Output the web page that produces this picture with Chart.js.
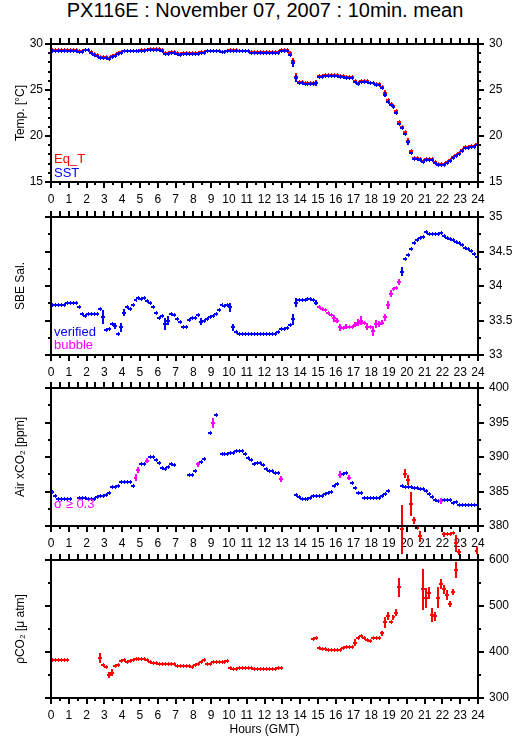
<!DOCTYPE html>
<html>
<head>
<meta charset="utf-8">
<script src="https://cdn.jsdelivr.net/npm/chart.js@4/dist/chart.umd.min.js"></script>
<style>
  body { margin:0; background:#fff; width:515px; height:739px; position:relative; overflow:hidden;
         font-family:"Liberation Sans", Arial, sans-serif; }
  #titulo { position:absolute; left:0; top:-2px; width:530px; text-align:center;
            font-size:20px; line-height:24px; color:#000; }
  canvas { position:absolute; left:0; }
</style>
</head>
<body>
<div id="titulo">PX116E : November 07, 2007 : 10min. mean</div>
<canvas id="cTemp" width="515" height="192" style="top:24px"></canvas>
<canvas id="cSal"  width="515" height="192" style="top:197px"></canvas>
<canvas id="cAr"   width="515" height="192" style="top:368px"></canvas>
<canvas id="cPco2" width="515" height="199" style="top:540px"></canvas>
<script>
// ─── Dados: médias de 10 min, 144 por dia (uma linha = 1 hora) ───
const _ = null;

// Temperatura [°C]
const sst = [
  29.25,29.25,29.25,29.25,29.25,29.25,  29.25,29.25,29.25,29.15,29.15,29.3,
  29.3,29.0,28.8,28.75,28.5,28.5,       28.5,28.4,28.6,28.75,28.9,29.05,
  29.2,29.2,29.2,29.2,29.2,29.2,        29.25,29.25,29.3,29.35,29.35,29.35,
  29.35,29.25,28.95,28.95,29.05,29.05,  28.9,28.85,28.95,28.95,28.95,28.95,
  28.95,28.95,29.05,29.05,29.2,29.2,    29.2,29.2,29.2,29.1,29.1,29.2,
  29.25,29.25,29.25,29.2,29.2,29.2,     29.2,29.05,29.05,29.05,29.05,29.05,
  29.05,29.05,29.05,29.05,29.05,29.28,  29.28,29.28,28.8,27.9,26.27,25.76,
  25.76,25.65,25.65,25.65,25.65,25.72,  26.38,26.38,26.52,26.52,26.52,26.52,
  26.52,26.38,26.38,26.27,26.27,26.27,  25.87,25.7,25.87,25.87,25.87,25.72,
  25.72,25.54,25.54,25.2,24.5,23.75,    23.35,23.1,22.5,21.3,20.85,20.25,
  19.3,18.2,17.5,17.5,17.36,17.17,      17.4,17.4,17.4,17.1,16.85,16.85,
  16.85,17.1,17.28,17.57,17.86,18.08,   18.4,18.66,18.66,18.8,18.8,19.02,
];
const eqT = [
  29.33,29.33,29.33,29.33,29.33,29.33,  29.33,29.33,29.33,29.23,29.23,29.38,
  29.38,29.08,28.88,28.83,28.58,28.58,  28.58,28.48,28.68,28.83,28.98,29.13,
  29.28,29.28,29.28,29.28,29.28,29.28,  29.33,29.33,29.38,29.43,29.43,29.43,
  29.43,29.33,29.03,29.03,29.13,29.13,  28.98,28.93,29.03,29.03,29.03,29.03,
  29.03,29.03,29.13,29.13,29.28,29.28,  29.28,29.28,29.28,29.18,29.18,29.28,
  29.33,29.33,29.33,29.28,29.28,29.28,  29.28,29.13,29.13,29.13,29.13,29.13,
  29.13,29.13,29.13,29.13,29.13,29.36,  29.36,29.36,29.0,28.1,26.45,25.85,
  25.85,25.75,25.75,25.75,25.75,25.8,   26.47,26.47,26.6,26.6,26.6,26.6,
  26.6,26.47,26.47,26.36,26.36,26.36,   25.96,25.8,25.96,25.96,25.96,25.8,
  25.8,25.63,25.63,25.35,24.7,23.9,     23.5,23.25,22.7,21.5,21.0,20.45,
  19.5,18.4,17.62,17.6,17.45,17.25,     17.5,17.5,17.5,17.2,16.95,16.95,
  16.95,17.2,17.38,17.67,17.96,18.18,   18.5,18.76,18.76,18.9,18.9,19.1,
];
const tempSd = [
  0,0,0,0,0,0,  0,0,0,0,0,0,  0,0,0,0,0,0,  0,0,0,0,0,0,
  0,0,0,0,0,0,  0,0,0,0,0,0,  0,0,0,0,0,0,  0,0,0,0,0,0,
  0,0,0,0,0,0,  0,0,0,0,0,0,  0,0,0,0,0,0,  0,0,0,0,0,0,
  0,0,0,0,0,0,  0,0,.25,.35,.35,0,  0,0,0,0,0,.25,  0,0,0,0,0,0,
  0,0,0,0,0,0,  0,0,0,0,0,0,  0,0,0,.15,.3,.2,  .1,0,.15,.25,.1,0,
  .3,.2,0,0,0,0,  0,0,0,0,0,.2,  0,0,0,0,0,0,  0,0,0,0,0,0,
];

// Salinidade SBE
const sal = [
  33.72,33.72,33.72,33.73,33.73,33.75,  33.75,33.75,33.75,33.69,33.59,33.56,
  33.6,33.6,33.59,33.59,33.67,33.55,    33.36,33.38,33.45,33.42,33.31,33.4,
  33.61,33.7,33.67,33.73,33.79,33.82,   33.81,33.83,33.78,33.75,33.69,33.61,
  33.53,33.56,33.45,33.5,33.59,33.58,   33.52,33.48,33.4,33.4,33.51,33.54,
  33.53,33.58,33.48,33.49,33.52,33.55,  33.57,33.6,33.65,33.72,33.71,33.72,
  33.69,33.4,33.33,33.3,33.3,33.3,      33.3,33.3,33.3,33.3,33.3,33.3,
  33.3,33.31,33.31,33.3,33.33,33.37,    33.37,33.39,33.44,33.52,33.76,33.8,
  33.8,33.8,33.81,33.81,33.8,33.76,     33.69,33.67,33.65,33.61,33.58,33.53,
  33.5,33.4,33.39,33.41,33.4,33.41,     33.44,33.47,33.5,33.47,33.41,33.4,
  33.35,33.45,33.45,33.47,33.55,33.72,  33.89,33.95,33.97,34.06,34.21,34.39,
  34.45,34.54,34.62,34.66,34.7,34.71,   34.78,34.76,34.76,34.76,34.76,34.77,
  34.72,34.7,34.68,34.67,34.64,34.62,   34.59,34.55,34.53,34.51,34.47,34.42,
];
const salSd = [
  .01,.01,.01,.01,.01,.01,  .01,.01,.01,.02,.01,.01,  .01,.01,.01,.01,.02,.1,   .02,.01,.01,.04,.02,.07,
  .05,.01,.01,.01,.01,.01,  .01,.01,.01,.01,.01,.01,  .01,.01,.09,.06,.01,.01,  .01,.01,.02,.02,.01,.01,
  .01,.01,.05,.02,.01,.01,  .01,.01,.01,.01,.01,.01,  .07,.05,.01,.01,.01,.01,  .01,.01,.01,.01,.01,.01,
  .01,.01,.01,.01,.01,.01,  .01,.01,.02,.08,.06,.01,  .01,.01,.01,.01,.01,.04,  .01,.01,.02,.02,.03,.05,
  .04,.05,.03,.04,.03,.03,  .04,.05,.06,.03,.05,.03,  .07,.06,.04,.04,.05,.06,  .05,.02,.02,.04,.06,.03,
  .03,.02,.02,.02,.01,.01,  .01,.01,.01,.01,.01,.01,  .01,.01,.01,.01,.01,.01,  .01,.01,.01,.01,.01,.01,
];
// intervalo com bolhas (horas)
const bolhaInicio = 15.0;
const bolhaFim    = 19.67;

// xCO2 do ar [ppm]
const arCo2 = [
  384.9,384.35,383.96,383.96,383.96,383.9,  383.9,_,_,384.0,384.0,384.0,
  383.95,383.9,383.9,384.2,384.3,384.4,     384.5,384.83,385.6,385.6,385.8,386.42,
  386.42,386.35,386.35,385.8,387.0,388.1,   389.0,389.0,389.47,390.05,390.0,389.6,
  389.1,388.36,388.3,388.6,389.0,388.8,     _,_,_,_,387.44,387.44,
  387.97,388.94,389.3,389.66,_,393.53,      394.97,396.09,_,390.43,390.43,390.45,
  390.6,390.6,390.87,390.87,390.87,390.43,  389.81,389.5,389.0,389.2,389.2,388.84,
  388.3,388.0,388.0,387.7,387.7,386.8,      _,_,_,_,384.5,384.2,
  383.9,383.9,383.9,384.05,384.3,384.3,     384.3,384.4,384.64,384.8,385.0,385.8,
  386.1,387.4,387.6,387.7,387.0,386.2,      385.46,384.83,384.83,384.1,384.1,384.1,
  384.1,384.1,384.1,384.4,384.6,385.07,     _,_,_,_,385.8,385.6,
  385.6,385.6,385.5,385.5,385.3,385.3,      385.1,384.6,384.2,383.77,383.6,383.6,
  383.8,383.8,383.8,383.4,383.5,383.04,     383.04,383.04,383.04,383.04,383.1,383.1,
];
const arCo2Sd = [
  .1,.1,.1,.1,.1,.1,  .1,.1,.1,.1,.1,.1,  .1,.1,.1,.1,.1,.1,  .1,.1,.1,.1,.1,.1,
  .1,.1,.1,.1,.5,.4,  .1,.1,.4,.1,.1,.1,  .1,.1,.1,.1,.1,.1,  .1,.1,.1,.1,.1,.1,
  .1,.4,.1,.1,.1,.1,  .7,.1,.1,.1,.1,.1,  .1,.1,.1,.1,.1,.1,  .1,.1,.1,.1,.1,.1,
  .1,.1,.1,.1,.1,.4,  .1,.1,.1,.1,.1,.1,  .1,.1,.1,.1,.1,.1,  .1,.1,.1,.1,.1,.1,
  .1,.5,.1,.1,.4,.1,  .1,.1,.1,.1,.1,.1,  .1,.1,.1,.1,.1,.1,  .1,.1,.1,.1,.1,.1,
  .1,.1,.1,.1,.1,.1,  .1,.1,.1,.1,.1,.45, .1,.1,.1,.1,.1,.1,  .1,.1,.1,.1,.1,.1,
];
// leituras rejeitadas (vermelho), 19:40 em diante
const arCo2Ruim   = [379.5,387.6,386.7,383.2,380.8,379.75,378.5, _,_,_,_,_,_,_, 378.8,378.85,378.9,378.95,377.5];
const arCo2RuimSd = [3.5,.7,.7,1.7,.5,.3,.8,                      0,0,0,0,0,0,0, .4,.1,.1,.1,1.2];
const arCo2RuimIni = 118; // índice do primeiro valor

// pCO2 [μatm]
const pco2 = [
  383.3,383.3,383.3,383.3,383.3,383.3,  _,_,_,_,_,_,
  _,_,_,_,386.2,372,                    367,350,355,370,372,380.4,
  382,379,380,383.5,385.5,385.5,        385.5,385,382,379,375.4,375.4,
  373.2,373.2,373.2,373.2,373.2,373.2,  369.6,369.6,369.6,369.6,369.6,368,
  372,375,379,382,375,374,              379,379,379,379,379,381,
  364.5,362.3,362.3,364.5,364.5,364.5,  364.5,364.5,363.5,363.5,363.5,363.5,
  363.5,363.5,363.5,363.5,364.5,364.5,  _,_,_,_,_,_,
  _,_,_,_,427.5,430,                    409.4,407,407,404.3,404.3,404.3,
  404.3,404.3,408,410,411,411,          420.3,431.2,434.8,430,425.5,424,
  431.2,430,431.2,440.6,464.5,479,      464.5,475.5,485.5,540.6,_,_,
  _,_,_,_,_,536,                        518,529,480.4,478,518,548,
  536,524,504,531,578.3,618,            _,_,_,_,_,620,
];
const pco2Sd = [
  1,1,1,1,1,1,  1,1,1,1,1,1,  1,1,1,1,11,1,  1,7,8,1,1,1,
  1,1,1,1,1,1,  1,1,1,1,1,1,  1,1,1,1,1,1,  1,1,1,1,1,1,
  1,1,1,1,1,1,  1,1,1,1,1,1,  1,1,1,1,1,1,  1,1,1,1,1,1,
  1,1,1,1,1,1,  1,1,1,1,1,1,  1,1,1,1,1,1,  1,1,1,1,1,1,
  1,1,1,1,1,1,  7,1,5,1,1,1,  1,1,1,5,12,9,  1,5,7,21,1,1,
  1,1,1,1,1,44, 22,13,15,10,23,10,  10,10,7,7,18,7,  1,1,1,1,1,8,
];

// ─── Cores ──────────────────────────────────────────
const COR = { azul:'#0000ff', vermelho:'#ff0000', magenta:'#ff00ff', preto:'#000' };

Chart.defaults.font.family = '"Liberation Sans", Arial, sans-serif';
Chart.defaults.font.size = 12;
Chart.defaults.color = '#000';

// índice -> centro do intervalo de 10 min (horas)
function pontos(vals, sds, inicio = 0, corDe = null) {
  const out = [];
  vals.forEach((v, i) => {
    if (v === null) return;
    const h = (inicio + i) / 6 + 1 / 12;
    const p = { x: h, y: v, sd: sds[i] };
    if (corDe) p.cor = corDe(p);
    out.push(p);
  });
  return out;
}

// rótulo sem zeros à direita (33, 33.5, 34 ...)
const fmtNum = v => String(+Number(v).toFixed(2));

// ─── Plugin: cruzes (barra de 10 min + desvio padrão) ───
const cruzes = {
  id: 'cruzes',
  afterDatasetsDraw(chart) {
    const { ctx } = chart;
    const xs = chart.scales.x, ys = chart.scales.y;
    ctx.save();
    ctx.lineCap = 'butt';
    chart.data.datasets.forEach(ds => {
      ds.data.forEach(p => {
        const x0 = Math.floor(xs.getPixelForValue(p.x - 1 / 12));
        const x1 = Math.ceil(xs.getPixelForValue(p.x + 1 / 12));
        const xc = Math.round(xs.getPixelForValue(p.x));
        const yc = Math.round(ys.getPixelForValue(p.y));
        const yt = Math.min(Math.round(ys.getPixelForValue(p.y + p.sd)), yc - 2);
        const yb = Math.max(Math.round(ys.getPixelForValue(p.y - p.sd)), yc + 2);
        ctx.strokeStyle = p.cor || ds.borderColor;
        ctx.lineWidth = 2;
        ctx.beginPath();
        ctx.moveTo(x0, yc); ctx.lineTo(x1, yc);
        ctx.stroke();
        ctx.lineWidth = (yb - yt) > 4 ? 2 : 1;
        const xv = ctx.lineWidth === 1 ? xc + 0.5 : xc;
        ctx.beginPath();
        ctx.moveTo(xv, yt); ctx.lineTo(xv, yb);
        ctx.stroke();
      });
    });
    ctx.restore();
  }
};

// ─── Plugin: moldura e marcas dos eixos (para fora) ───
const moldura = {
  id: 'moldura',
  afterDraw(chart, args, o) {
    const { ctx, chartArea: a } = chart;
    const xs = chart.scales.x, ys = chart.scales.y;
    ctx.save();
    ctx.strokeStyle = COR.preto;
    ctx.lineWidth = 2;
    ctx.strokeRect(a.left, a.top, a.right - a.left, a.bottom - a.top);
    ctx.beginPath();
    for (let k = 0; k <= 48; k++) {
      const px = Math.round(xs.getPixelForValue(k / 2));
      ctx.moveTo(px, a.top);    ctx.lineTo(px, a.top - 6);
      ctx.moveTo(px, a.bottom); ctx.lineTo(px, a.bottom + (k % 2 ? 3 : 6));
    }
    const n = Math.round((ys.max - ys.min) / o.menor);
    for (let k = 0; k <= n; k++) {
      const v = ys.min + k * o.menor;
      const py = Math.round(ys.getPixelForValue(v));
      const r = v / o.maior;
      const len = Math.abs(r - Math.round(r)) < 1e-6 ? 6 : 3;
      ctx.moveTo(a.left, py);  ctx.lineTo(a.left - len, py);
      ctx.moveTo(a.right, py); ctx.lineTo(a.right + len, py);
    }
    ctx.stroke();
    ctx.restore();
  }
};

// ─── Plugin: legendas dentro do painel ───
const rotulos = {
  id: 'rotulos',
  afterDraw(chart, args, o) {
    if (!o.itens) return;
    const { ctx, chartArea: a } = chart;
    ctx.save();
    ctx.font = '13px "Liberation Sans", Arial, sans-serif';
    ctx.textBaseline = 'alphabetic';
    o.itens.forEach(it => {
      ctx.fillStyle = it.cor;
      ctx.fillText(it.texto, a.left + 3, a.bottom + it.dy);
    });
    ctx.restore();
  }
};

function criaPainel(id, c) {
  return new Chart(document.getElementById(id), {
    type: 'scatter',
    data: { datasets: c.datasets },
    options: {
      responsive: false,
      animation: false,
      devicePixelRatio: 1,
      events: [],
      layout: { padding: { top: 20, left: 0, right: 0, bottom: 0 } },
      elements: { point: { radius: 0 } },
      plugins: {
        legend: { display: false },
        tooltip: { enabled: false },
        moldura: { menor: c.menor, maior: c.maior },
        rotulos: { itens: c.legenda },
      },
      scales: {
        x: {
          type: 'linear', position: 'bottom', min: 0, max: 24,
          grid: { display: false, drawTicks: false }, border: { display: false },
          ticks: { stepSize: 1, autoSkip: false, maxRotation: 0, padding: 10, font: { size: 12 } },
          title: c.tituloX
            ? { display: true, text: c.tituloX, font: { size: 12 }, padding: { top: 2, bottom: 2 } }
            : { display: false },
          afterFit: s => { s.height = c.alturaX; },
        },
        y: {
          position: 'left', min: c.min, max: c.max,
          grid: { display: false, drawTicks: false }, border: { display: false },
          ticks: { display: c.rotuloEsq, stepSize: c.maior, padding: 8, font: { size: 12 }, callback: fmtNum },
          title: { display: true, text: c.tituloY, font: { size: 12 }, padding: { top: 13, bottom: 0 } },
          afterFit: s => { s.width = 51; },
        },
        y2: {
          position: 'right', min: c.min, max: c.max,
          grid: { display: false, drawTicks: false }, border: { display: false },
          ticks: { stepSize: c.maior, padding: 11, font: { size: 12 }, callback: fmtNum },
          afterFit: s => { s.width = 37; },
        },
      },
    },
    plugins: [cruzes, moldura, rotulos],
  });
}

// Painel 1 — temperatura
criaPainel('cTemp', {
  min: 15, max: 30, maior: 5, menor: 1, alturaX: 34, rotuloEsq: true,
  tituloY: 'Temp. [°C]',
  datasets: [
    { label: 'Eq_T', data: pontos(eqT, tempSd), borderColor: COR.vermelho },
    { label: 'SST',  data: pontos(sst, tempSd), borderColor: COR.azul },
  ],
  legenda: [
    { texto: 'Eq_T', cor: COR.vermelho, dy: -19 },
    { texto: 'SST',  cor: COR.azul,     dy: -5 },
  ],
});

// Painel 2 — salinidade
criaPainel('cSal', {
  min: 33, max: 35, maior: 0.5, menor: 0.25, alturaX: 34, rotuloEsq: false,
  tituloY: 'SBE Sal.',
  datasets: [
    { label: 'Sal', borderColor: COR.azul,
      data: pontos(sal, salSd, 0, p => (p.x > bolhaInicio && p.x < bolhaFim) ? COR.magenta : COR.azul) },
  ],
  legenda: [
    { texto: 'verified', cor: COR.azul,    dy: -19 },
    { texto: 'bubble',   cor: COR.magenta, dy: -6 },
  ],
});

// Painel 3 — xCO2 do ar
criaPainel('cAr', {
  min: 380, max: 400, maior: 5, menor: 2.5, alturaX: 34, rotuloEsq: false,
  tituloY: 'Air xCO₂ [ppm]',
  datasets: [
    { label: 'ruim', borderColor: COR.vermelho, data: pontos(arCo2Ruim, arCo2RuimSd, arCo2RuimIni) },
    { label: 'ar', borderColor: COR.azul,
      data: pontos(arCo2, arCo2Sd, 0, p => p.sd >= 0.3 ? COR.magenta : COR.azul) },
  ],
  legenda: [
    { texto: 'σ ≥ 0.3', cor: COR.magenta, dy: -18 },
  ],
});

// Painel 4 — pCO2
criaPainel('cPco2', {
  min: 300, max: 600, maior: 100, menor: 50, alturaX: 41, rotuloEsq: false,
  tituloY: 'ρCO₂ [μ atm]', tituloX: 'Hours (GMT)',
  datasets: [
    { label: 'pCO2', borderColor: COR.vermelho, data: pontos(pco2, pco2Sd) },
  ],
});
</script>
</body>
</html>
